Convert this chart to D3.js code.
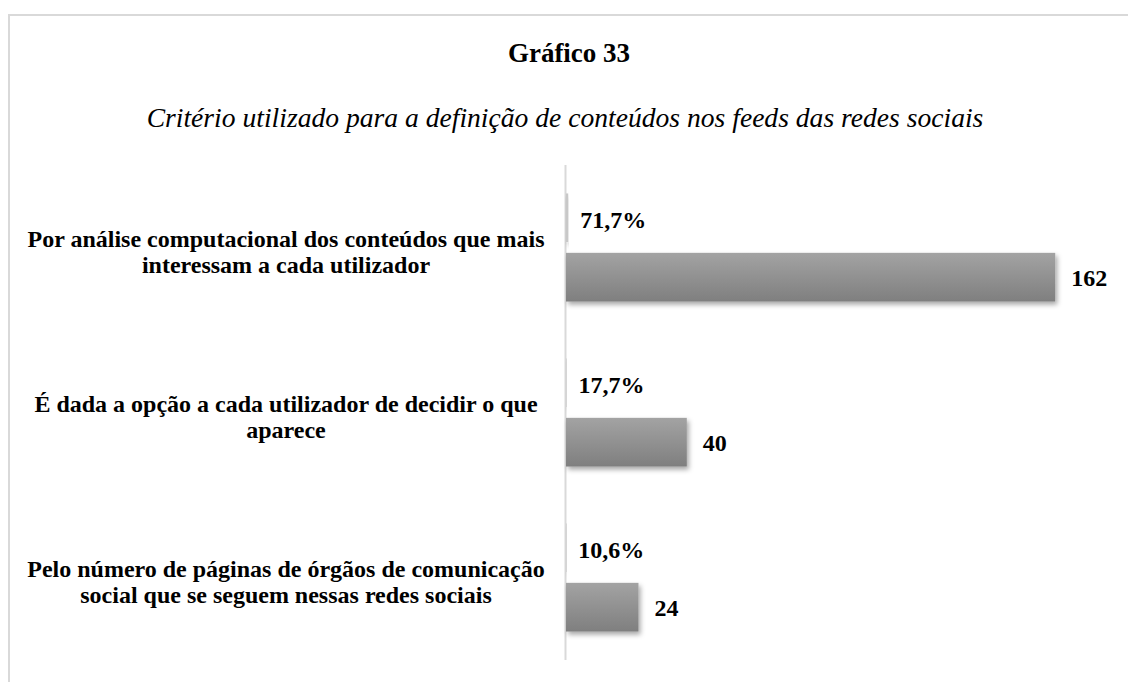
<!DOCTYPE html>
<html>
<head>
<meta charset="utf-8">
<script src="https://cdn.jsdelivr.net/npm/d3@7"></script>
<style>
	body { margin: 0; background: #fff; }
</style>
</head>
<body>
<div id="chart"></div>
<script>
// chart data
const categories = [
	['Por análise computacional dos conteúdos que mais', 'interessam a cada utilizador'],
	['É dada a opção a cada utilizador de decidir o que', 'aparece'],
	['Pelo número de páginas de órgãos de comunicação', 'social que se seguem nessas redes sociais']
]
const percentValues = [0.717, 0.177, 0.106]
const percentLabels = ['71,7%', '17,7%', '10,6%']
const countValues = [162, 40, 24]
const seriesNames = ['percent', 'count']

const width = 1128
const height = 682
const serif = '"Liberation Serif", "Times New Roman", Times, serif'

const svg = d3.select('#chart').append('svg')
	.attr('width', width)
	.attr('height', height)
	.attr('font-family', serif)
	.style('font-family', serif)

const defs = svg.append('defs')

// bar gradient, light top -> darker bottom
const grad = defs.append('linearGradient')
	.attr('id', 'barGrad')
	.attr('x1', 0).attr('y1', 0).attr('x2', 0).attr('y2', 1)
grad.append('stop').attr('offset', '0%').attr('stop-color', '#a3a3a3')
grad.append('stop').attr('offset', '100%').attr('stop-color', '#7f7f7f')

const shadow = defs.append('filter')
	.attr('id', 'shadow')
	.attr('x', '-20%').attr('y', '-20%').attr('width', '140%').attr('height', '160%')
shadow.append('feDropShadow')
	.attr('dx', 2).attr('dy', 3)
	.attr('stdDeviation', 2.5)
	.attr('flood-color', '#000')
	.attr('flood-opacity', 0.35)

// outer frame (cut by the window on right and bottom)
svg.append('rect')
	.attr('x', 9)
	.attr('y', 15)
	.attr('width', 1140)
	.attr('height', 700)
	.attr('fill', 'none')
	.attr('stroke', '#d9d9d9')
	.attr('stroke-width', 2)

// title
svg.append('text')
	.attr('x', 569)
	.attr('y', 62)
	.attr('text-anchor', 'middle')
	.style('font-family', serif)
	.style('font-size', '27px')
	.style('font-weight', 'bold')
	.text('Gráfico 33')

svg.append('text')
	.attr('x', 565)
	.attr('y', 127)
	.attr('text-anchor', 'middle')
	.style('font-family', serif)
	.style('font-size', '27.6px')
	.style('font-style', 'italic')
	.text('Critério utilizado para a definição de conteúdos nos feeds das redes sociais')

// scales
const y = d3.scaleBand()
	.domain(d3.range(categories.length))
	.range([165, 660])
	.paddingInner(0.345)
	.paddingOuter(0.1725)

const ySeries = d3.scaleBand()
	.domain(seriesNames)
	.range([0, y.bandwidth()])
	.paddingInner(0.18)

const x = d3.scaleLinear()
	.domain([0, 180])
	.range([566, 566 + 180 * 3.02])

// axis line
svg.append('line')
	.attr('x1', x(0) - 0.5).attr('x2', x(0) - 0.5)
	.attr('y1', 165).attr('y2', 660)
	.attr('stroke', '#d9d9d9')
	.attr('stroke-width', 2)

const groups = svg.selectAll('g.cat')
	.data(categories)
	.enter()
	.append('g')
	.attr('class', 'cat')
	.attr('transform', (d, i) => `translate(0,${y(i)})`)

// category labels
groups.append('text')
	.attr('text-anchor', 'middle')
	.style('font-family', serif)
	.style('font-size', '24px')
	.style('font-weight', 'bold')
	.selectAll('tspan')
	.data(d => d)
	.enter()
	.append('tspan')
	.attr('x', 286)
	.attr('y', (d, i, n) => y.bandwidth() / 2 + 13 + (i - (n.length - 1) / 2) * 26)
	.text(d => d)

// percent bars
groups.append('rect')
	.attr('x', x(0))
	.attr('y', ySeries('percent'))
	.attr('width', (d, i) => Math.max(x(percentValues[i]) - x(0), 0.6))
	.attr('height', ySeries.bandwidth())
	.attr('fill', '#c8c8c8')
	.attr('filter', 'url(#shadow)')

// count bars
groups.append('rect')
	.attr('x', x(0))
	.attr('y', ySeries('count'))
	.attr('width', (d, i) => x(countValues[i]) - x(0))
	.attr('height', ySeries.bandwidth())
	.attr('fill', 'url(#barGrad)')
	.attr('filter', 'url(#shadow)')

// value labels
groups.append('text')
	.attr('x', (d, i) => x(percentValues[i]) + 12)
	.attr('y', ySeries('percent') + ySeries.bandwidth() / 2 + 10)
	.style('font-family', serif)
	.style('font-size', '24px')
	.style('font-weight', 'bold')
	.text((d, i) => percentLabels[i])

groups.append('text')
	.attr('x', (d, i) => x(countValues[i]) + 16)
	.attr('y', ySeries('count') + ySeries.bandwidth() / 2 + 9)
	.style('font-family', serif)
	.style('font-size', '24px')
	.style('font-weight', 'bold')
	.text((d, i) => countValues[i])
</script>
</body>
</html>
